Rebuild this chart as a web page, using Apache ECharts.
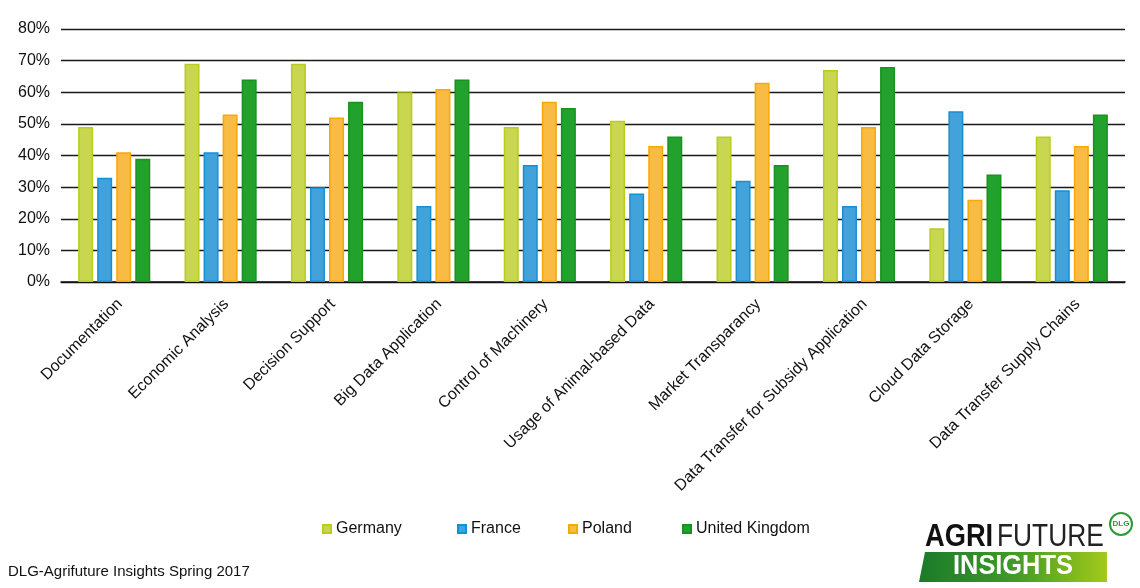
<!DOCTYPE html>
<html>
<head>
<meta charset="utf-8">
<script src="https://cdn.jsdelivr.net/npm/echarts@6/dist/echarts.min.js"></script>
<style>html,body{margin:0;padding:0;background:#fff;}#c{width:1140px;height:588px;}</style>
</head>
<body>
<div id="c"></div>
<script>
const categories = ["Documentation","Economic Analysis","Decision Support","Big Data Application","Control of Machinery","Usage of Animal-based Data","Market Transparancy","Data Transfer for Subsidy Application","Cloud Data Storage","Data Transfer Supply Chains"];
const germany = [49, 69, 69, 60, 49, 51, 46, 67, 17, 46];
const france  = [33, 41, 30, 24, 37, 28, 32, 24, 54, 29];
const poland  = [41, 53, 52, 61, 57, 43, 63, 49, 26, 43];
const uk      = [39, 64, 57, 64, 55, 46, 37, 68, 34, 53];
const seriesNames = ["Germany","France","Poland","United Kingdom"];
const yTicks = [0, 80, 10];
const footnote = "DLG-Agrifuture Insights Spring 2017";

const fills = ["#c8d650","#44a2da","#f8bc44","#22a12d"];
const borders = ["#b8cd1c","#1590d6","#f6a900","#17931f"];
const FONT = "'Liberation Sans', Arial, sans-serif";
const values = [germany, france, poland, uk];

const chart = echarts.init(document.getElementById('c'), null, {renderer:'canvas'});
const legendLefts = [317, 452, 563, 677];
const option = {
  animation: false,
  backgroundColor: '#fff',
  textStyle: {fontFamily: FONT},
  grid: {left: 61, right: 15, top: 29, bottom: 306, containLabel: false},
  legend: seriesNames.map((n, i) => ({
    data: [n], left: legendLefts[i], top: 516, icon: 'rect', itemWidth: 8, itemHeight: 8,
    textStyle: {fontSize: 16, color: '#111', fontFamily: FONT}, selectedMode: false
  })),
  xAxis: {
    type: 'category', data: categories,
    axisLine: {show: true, lineStyle: {color: '#111', width: 1.5}},
    axisTick: {show: false},
    axisLabel: {interval: 0, rotate: 45, fontSize: 16, color: '#111', margin: 14, verticalAlign: 'top', fontFamily: FONT}
  },
  yAxis: {
    type: 'value', min: yTicks[0], max: yTicks[1], interval: yTicks[2],
    axisLine: {show: false}, axisTick: {show: false},
    axisLabel: {formatter: '{value}%', fontSize: 16, color: '#111', margin: 11, fontFamily: FONT},
    splitLine: {lineStyle: {color: '#1a1a1a', width: 1.4}}
  },
  series: seriesNames.map((n, i) => ({
    name: n, type: 'bar', data: values[i], barWidth: 15, barGap: '27%',
    itemStyle: {color: fills[i], borderColor: borders[i], borderWidth: 1.5}
  })),
  graphic: [
    {type: 'text', left: 8, top: 564, style: {text: footnote, font: '15px ' + FONT, fill: '#111'}},
    {type: 'polygon', shape: {points: [[919,582],[925,552],[1107,552],[1107,582]]},
      style: {fill: new echarts.graphic.LinearGradient(0,0,1,0,[{offset:0,color:'#1b7a2c'},{offset:0.5,color:'#3f9a26'},{offset:1,color:'#a3c91a'}])}},
    {type: 'text', x: 953, y: 567, scaleX: 0.94, style: {text: 'INSIGHTS', x: 0, y: 0, font: 'bold 27px ' + FONT, fill: '#fff', textVerticalAlign: 'middle'}},
    {type: 'text', x: 925, y: 537, scaleX: 0.88, style: {text: 'AGRI', x: 0, y: 0, font: 'bold 31px ' + FONT, fill: '#111', textVerticalAlign: 'middle'}},
    {type: 'text', x: 997, y: 537, scaleX: 0.85, style: {text: 'FUTURE', x: 0, y: 0, font: '31px ' + FONT, fill: '#222', textVerticalAlign: 'middle'}},
    {type: 'circle', shape: {cx: 1121, cy: 524, r: 11}, style: {fill: '#fff', stroke: '#2a9a35', lineWidth: 2}},
    {type: 'text', x: 1121, y: 524, style: {text: 'DLG', x: 0, y: 0, font: 'bold 8px ' + FONT, fill: '#2a9a35', textAlign: 'center', textVerticalAlign: 'middle'}}
  ]
};
chart.setOption(option);
</script>
</body>
</html>
